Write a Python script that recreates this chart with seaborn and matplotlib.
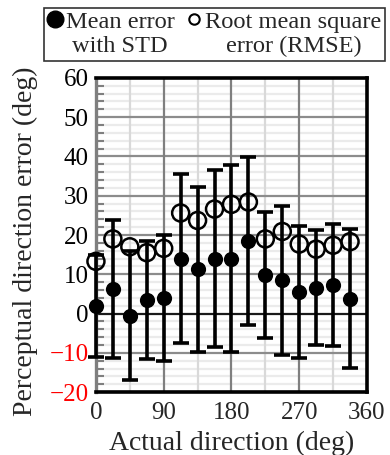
import numpy as np
import pandas as pd
import matplotlib
matplotlib.use("Agg")
import matplotlib.pyplot as plt
import seaborn as sns
from matplotlib.lines import Line2D
from matplotlib.legend_handler import HandlerLine2D
from matplotlib.ticker import MultipleLocator

# ===============================
# Data
# ===============================
directions = [0, 22.5, 45, 67.5, 90, 112.5, 135, 157.5, 180,
              202.5, 225, 247.5, 270, 292.5, 315, 337.5]
mean_error = [2.0, 6.2, -0.5, 3.5, 4.0, 14.0, 11.3, 14.0, 14.0,
              18.5, 9.8, 8.5, 5.6, 6.6, 7.3, 3.8]
std_error = [13.0, 17.5, 16.5, 15.0, 16.0, 21.5, 21.0, 22.5, 23.7,
             21.4, 16.0, 19.0, 16.8, 14.6, 15.5, 17.7]
rmse = [13.3, 19.0, 17.0, 15.5, 16.6, 25.6, 23.7, 26.6, 27.8,
        28.4, 19.0, 20.9, 17.7, 16.4, 17.4, 18.3]

x_ticks = [0, 90, 180, 270, 360]
y_ticks = [-20, -10, 0, 10, 20, 30, 40, 50, 60]

df = pd.DataFrame({"direction": directions, "mean": mean_error,
                   "std": std_error, "rmse": rmse})


# legend marker placed next to the first line of a two-line label
class TopLineHandler(HandlerLine2D):
    def create_artists(self, legend, orig_handle, xdescent, ydescent,
                       width, height, fontsize, trans):
        return super().create_artists(legend, orig_handle, xdescent,
                                      ydescent - 22, width, height,
                                      fontsize, trans)


# ===============================
# Style
# ===============================
sns.set_style("white")
plt.rcParams['font.family'] = ['Liberation Serif', 'DejaVu Serif']

fig = plt.figure(figsize=(3.9, 4.55), dpi=100)
ax = fig.add_axes([0.246, 0.138, 0.695, 0.691])

# grid lines
for v in np.arange(-20, 61, 2):
    if v % 10 == 0:
        col = '#1a1a1a' if v == 0 else '#8c8c8c'
        ax.axhline(v, color=col, lw=1.6, zorder=1)
    else:
        ax.axhline(v, color='#ebebeb', lw=1.6, zorder=0.5)
for v in [45, 135, 225, 315]:
    ax.axvline(v, color='#d9d9d9', lw=1.6, zorder=0.6)
for v in [90, 180, 270]:
    ax.axvline(v, color='#7f7f7f', lw=1.6, zorder=1)

# error bars + mean markers
eb = ax.errorbar(df["direction"], df["mean"], yerr=df["std"], fmt='none',
                 ecolor='black', elinewidth=2.6, capsize=5.5, capthick=2.6, zorder=3)
for art in eb.lines[1] + eb.lines[2]:
    art.set_clip_on(False)
sns.scatterplot(data=df, x="direction", y="mean", ax=ax, color='black',
                s=120, edgecolor='black', linewidth=0, zorder=4, legend=False,
                clip_on=False)
# RMSE markers (open circles)
sns.scatterplot(data=df, x="direction", y="rmse", ax=ax, marker='o',
                s=150, facecolor='none', edgecolor='black', linewidth=1.8,
                zorder=5, legend=False, clip_on=False)

ax.set_xlim(0, 360)
ax.set_ylim(-20, 60)
ax.set_xticks(x_ticks)
ax.set_yticks(y_ticks)
ax.yaxis.set_minor_locator(MultipleLocator(2))
ax.tick_params(axis='x', length=0, labelsize=18, pad=7)
ax.tick_params(axis='y', which='major', direction='in', length=6, width=1.5,
               color='#7f7f7f', labelsize=18, pad=5)
ax.tick_params(axis='y', which='minor', direction='in', length=6, width=1.5,
               color='#7f7f7f', left=True)
for lbl, v in zip(ax.get_yticklabels(), y_ticks):
    lbl.set_color('red' if v < 0 else 'black')

for side in ['top', 'right', 'bottom']:
    ax.spines[side].set_color('black')
    ax.spines[side].set_linewidth(2.6)
ax.spines['left'].set_color('#7f7f7f')
ax.spines['left'].set_linewidth(2.4)

ax.set_xlabel("Actual direction (deg)", fontsize=20, labelpad=5)
ax.set_ylabel("Perceptual direction error (deg)", fontsize=20)
ax.yaxis.set_label_coords(-0.214, 0.48)

# legend
handles = [
    Line2D([], [], marker='o', linestyle='none', color='black', markersize=12),
    Line2D([], [], marker='o', linestyle='none', markerfacecolor='none',
           markeredgecolor='black', markeredgewidth=1.5, markersize=7.5),
]
leg = fig.legend(handles, ["Mean error\nwith STD", "Root mean square\nerror (RMSE)"],
                 loc='upper center', bbox_to_anchor=(0.55, 0.982), ncol=2,
                 fontsize=17.6, frameon=True, fancybox=False, handlelength=0.6,
                 handletextpad=0.15, columnspacing=0.5, borderpad=0.15,
                 labelspacing=0.1, borderaxespad=0,
                 handler_map={Line2D: TopLineHandler()})
leg.set_zorder(10)
leg.get_frame().set_edgecolor('black')
leg.get_frame().set_linewidth(1.2)
for t in leg.get_texts():
    t.set_multialignment('center')

fig.savefig("out.png", dpi=100)
